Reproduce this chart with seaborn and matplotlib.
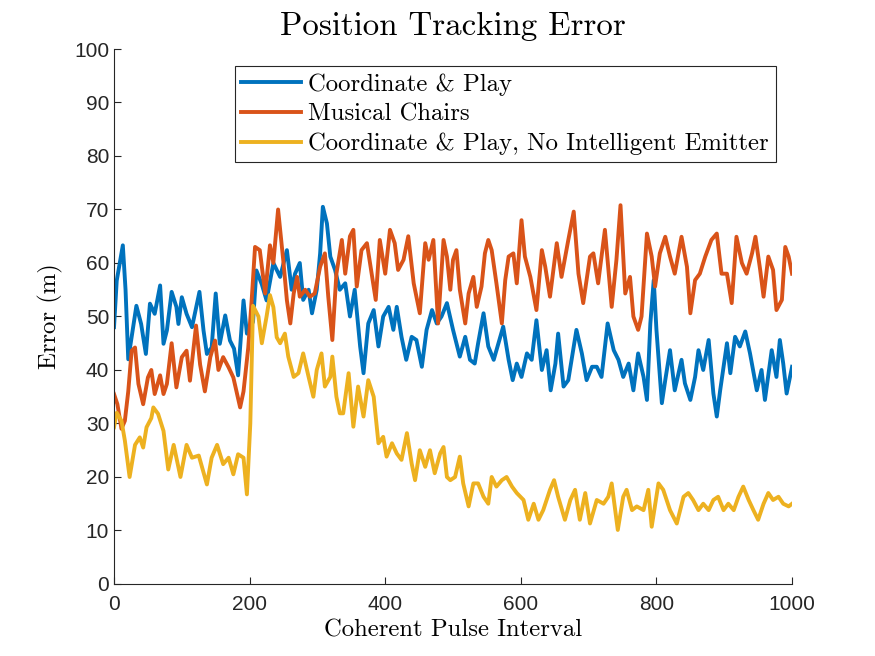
""" Position tracking error vs. coherent pulse interval,
    redrawn with seaborn in a MATLAB-like style.
"""

###########
# Imports #
###########
import pandas as pd
import numpy as np
import matplotlib
matplotlib.use('Agg')
import matplotlib.pyplot as plt
import seaborn as sns


########
# Data #
########
# Coordinate & Play
cp_x = [0, 4, 13, 17, 21, 27, 33, 40, 47, 53, 60, 68, 73, 78, 85, 92, 95, 100,
        107, 115, 126, 132, 137, 144, 150, 156, 164, 171, 177, 183, 191, 196,
        205, 210, 218, 225, 235, 245, 255, 262, 267, 274, 279, 287, 292, 299,
        304, 308, 314, 319, 326, 333, 341, 348, 355, 363, 368, 375, 383, 390,
        397, 405, 412, 417, 424, 431, 439, 446, 454, 461, 469, 476, 483, 491,
        500, 510, 518, 525, 532, 537, 545, 552, 560, 567, 574, 582, 588, 594,
        601, 609, 616, 623, 631, 638, 644, 651, 655, 663, 670, 682, 690, 697,
        705, 712, 719, 728, 737, 744, 751, 759, 766, 773, 781, 786, 791, 796,
        800, 808, 813, 820, 827, 837, 842, 850, 857, 862, 869, 877, 884, 889,
        894, 904, 909, 916, 923, 931, 938, 948, 955, 960, 970, 977, 982, 987,
        992, 1000]
cp_y = [48, 56.7, 63.3, 55, 42, 47, 52, 48.6, 43, 52.4, 50.5, 55.8, 44.9, 47.4,
        54.6, 51.8, 48.6, 53.6, 50.5, 48, 54.6, 47.4, 43, 44.2, 54.3, 44.9,
        50.2, 45.5, 44, 39, 53, 46.8, 49, 58.6, 56, 53, 60, 57.4, 62.4, 55, 58,
        60, 53.1, 55, 50.6, 55, 61.8, 70.5, 67.4, 61.2, 58.7, 55, 56.2, 50, 55,
        44.4, 39.4, 48.7, 51.2, 44.4, 50, 51.8, 47.5, 51.8, 46.2, 41.9, 46.2,
        45.6, 40.6, 47.5, 51.2, 48.7, 50, 52.5, 47.5, 42.5, 46.2, 41.9, 41.2,
        45, 50.6, 44.4, 41.9, 45, 48.1, 41.9, 38.1, 41.2, 38.7, 43.1, 41.9,
        49.3, 40, 43.7, 36.2, 41.2, 46.8, 36.9, 38.1, 47.5, 43.1, 38.1, 40.6,
        40.6, 38.7, 48.7, 43.7, 41.9, 38.7, 41.2, 36.2, 43.1, 38.7, 34.4, 48.7,
        56.8, 47.5, 33.8, 38.1, 43.7, 36.2, 41.9, 37.5, 34.4, 38.7, 43.7, 40,
        45.6, 35.6, 31.3, 36.2, 45, 39.4, 46.2, 44.4, 47.2, 43.1, 36.2, 40,
        34.4, 43.7, 38.7, 45.6, 41.2, 35.6, 40.6]

# Musical Chairs
mc_x = [0, 5, 11, 16, 21, 26, 31, 36, 43, 50, 55, 60, 68, 73, 78, 85, 92, 100,
        107, 112, 121, 127, 134, 142, 149, 154, 161, 169, 176, 186, 191, 198,
        203, 208, 215, 223, 230, 235, 242, 250, 255, 260, 265, 270, 274, 282,
        289, 296, 304, 311, 316, 322, 328, 336, 341, 348, 353, 358, 365, 373,
        380, 386, 392, 400, 407, 414, 419, 427, 434, 442, 451, 459, 464, 471,
        478, 486, 491, 496, 500, 505, 510, 518, 523, 530, 535, 542, 547, 552,
        557, 564, 572, 577, 582, 589, 594, 601, 606, 614, 623, 631, 636, 643,
        653, 660, 670, 678, 685, 692, 702, 707, 714, 724, 734, 741, 747, 754,
        761, 766, 773, 778, 786, 793, 798, 805, 813, 820, 827, 837, 845, 850,
        857, 864, 872, 881, 889, 896, 904, 911, 918, 926, 933, 941, 946, 953,
        958, 965, 972, 977, 985, 990, 995, 1000]
mc_y = [35.5, 33.6, 29, 30.5, 36, 43.6, 44.2, 37.4, 33.6, 38.6, 40, 35.5, 39,
        35.5, 37.4, 45, 36.75, 42.4, 43.6, 38, 48.3, 41, 36, 42.4, 45.5, 40,
        42.4, 40.5, 38.6, 33, 36, 44.2, 53, 63, 62.4, 54.3, 63.3, 60, 70, 60,
        53, 48.7, 54.3, 57.4, 53.7, 55, 53.7, 54.3, 59.3, 61.8, 53.7, 45.6, 58,
        64.3, 58, 65, 66.2, 55.6, 62.4, 63.7, 58, 53.1, 64.3, 58, 66.2, 63.7,
        58.7, 60.6, 65, 56.2, 50.6, 63.7, 60.6, 64.3, 48.7, 64.3, 61.2, 55,
        60.6, 62.4, 55, 48.7, 54.3, 57.4, 51.8, 55.6, 61.8, 64.3, 62.4, 56.2,
        48.7, 56.8, 61.2, 61.8, 56.2, 68, 61.2, 57.4, 51.2, 62.4, 59.3, 53.7,
        63.7, 57.4, 64.3, 69.6, 58, 52.5, 61.2, 61.8, 56.2, 66.2, 51.8, 60.6,
        70.8, 54.3, 57.4, 50, 47.5, 50, 65.5, 61.2, 55.6, 61.8, 64.9, 61.2, 58,
        64.9, 59.3, 50.6, 56.8, 58, 61.2, 64.3, 65.5, 58, 58, 52.5, 64.9, 60,
        58, 61.8, 64.9, 58.7, 53.7, 61.2, 58.7, 51.2, 53.1, 63, 61.2, 58]

# Coordinate & Play, No Intelligent Emitter
cpn_x = [0, 4, 11, 16, 23, 31, 38, 43, 48, 55, 58, 65, 73, 80, 88, 98, 107,
         115, 125, 130, 137, 144, 152, 161, 169, 176, 183, 191, 196, 201, 205,
         213, 218, 225, 230, 235, 240, 245, 252, 257, 265, 272, 279, 287, 294,
         299, 306, 311, 319, 322, 328, 333, 338, 346, 353, 360, 368, 375, 383,
         390, 397, 402, 410, 417, 424, 432, 439, 444, 451, 459, 466, 473, 481,
         486, 491, 496, 503, 510, 515, 523, 530, 537, 545, 552, 557, 564, 572,
         579, 587, 594, 604, 611, 619, 626, 633, 643, 649, 655, 665, 673, 680,
         687, 695, 702, 712, 722, 729, 734, 743, 751, 756, 764, 771, 781, 788,
         793, 803, 810, 820, 830, 840, 847, 854, 862, 869, 877, 884, 891, 899,
         906, 914, 921, 928, 936, 943, 950, 958, 965, 972, 980, 987, 995, 1000]
cpn_y = [29.3, 32, 30.5, 26.8, 20, 26, 27.4, 25.5, 29.3, 31, 33, 31.8, 28.6,
         21.4, 26, 20, 26, 23.6, 24, 21.75, 18.6, 23.6, 26, 22.4, 23.6, 20.5,
         24.25, 23.6, 16.75, 30, 52, 50, 45, 50, 54, 51.75, 46.1, 45, 46.8,
         42.5, 38.7, 39.4, 43.1, 38.7, 35, 40, 43.1, 36.9, 38.7, 42.5, 35,
         31.9, 31.9, 39.4, 29.4, 36.9, 31.3, 38.1, 35, 26.3, 27.5, 23.8, 26.3,
         24.4, 23.2, 28.2, 22.5, 19.4, 25, 21.9, 25, 20.7, 24.4, 25.6, 20,
         19.4, 20, 23.8, 18.8, 14.5, 18.8, 18.8, 16.3, 15, 20, 18.2, 19.4, 20,
         18.2, 17, 15.7, 12, 15, 12, 13.8, 17.6, 19.4, 16.3, 12, 15.7, 17.6,
         12, 17, 11.3, 15.7, 15, 16.3, 18.8, 10.1, 16.3, 17.6, 13.8, 14.5,
         13.8, 17.6, 10.7, 18.8, 17.6, 13.8, 11.3, 16.3, 17, 15.7, 13.8, 15,
         13.8, 15.7, 16.3, 13.8, 15, 13.8, 16.3, 18.2, 15.7, 13.8, 12, 15, 17,
         15.7, 16.3, 15, 14.5, 15]

labels = ['Coordinate & Play', 'Musical Chairs',
          'Coordinate & Play, No Intelligent Emitter']
colors = ['#0072BD', '#D95319', '#EDB120']
x_ticks = list(range(0, 1001, 200))
y_ticks = list(range(0, 101, 10))


#################
# Organize Data #
#################
dfs = []
for xs, ys, lab in zip([cp_x, mc_x, cpn_x], [cp_y, mc_y, cpn_y], labels):
    dfs.append(pd.DataFrame({'interval': xs, 'error': ys, 'method': lab}))
data = pd.concat(dfs, ignore_index=True)


########
# Plot #
########
plt.rcParams['font.family'] = ['Liberation Sans', 'DejaVu Sans']
serif = 'cmr10'
fig = plt.figure(figsize=(8.75, 6.56), dpi=100)
ax = fig.add_axes([0.1303, 0.1098, 0.7749, 0.8155])

sns.lineplot(data=data, x='interval', y='error', hue='method',
             hue_order=labels, palette=colors, linewidth=2.8,
             estimator=None, sort=False, ax=ax)

ax.set_xlim(0, 1000)
ax.set_ylim(0, 100)
ax.set_xticks(x_ticks)
ax.set_yticks(y_ticks)
ax.tick_params(direction='in', length=5, width=0.8, labelsize=15,
               colors='#262626')
ax.tick_params(axis='x', pad=8)
ax.spines['top'].set_visible(False)
ax.spines['right'].set_visible(False)
for s in ['left', 'bottom']:
    ax.spines[s].set_color('#262626')
    ax.spines[s].set_linewidth(0.8)

ax.set_title("Position Tracking Error", fontfamily=serif, fontsize=23.7,
             pad=10)
ax.set_xlabel("Coherent Pulse Interval", fontfamily=serif, fontsize=17.8,
              labelpad=4)
ax.set_ylabel("Error (m)", fontfamily=serif, fontsize=17.8, labelpad=8)

leg = ax.legend(loc='upper right', bbox_to_anchor=(0.976, 0.968),
                prop={'family': serif, 'size': 17.8}, frameon=True,
                fancybox=False, edgecolor='#262626', framealpha=1,
                handlelength=2.4, handletextpad=0.3, borderpad=0.28,
                labelspacing=0.3, borderaxespad=0)
leg.get_frame().set_linewidth(0.8)
for line in leg.get_lines():
    line.set_linewidth(2.8)

plt.savefig('out.png', dpi=100)
plt.close()
